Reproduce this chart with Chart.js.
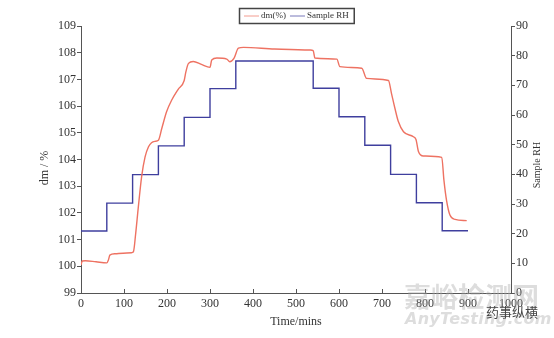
<!DOCTYPE html>
<html>
<head>
<meta charset="utf-8">
<script src="https://cdn.jsdelivr.net/npm/chart.js@4.4.1/dist/chart.umd.min.js"></script>
<style>
  body { margin: 0; background: #fff; }
  #wrap { position: relative; width: 554px; height: 338px; }
  .wm { position: absolute; white-space: nowrap; pointer-events: none; }
  .wm-cn { left: 404px; top: 276px; font: bold 27px "Noto Sans CJK SC"; color: rgba(170,170,170,0.4); }
  .wm-en { left: 405px; top: 309px; font: italic bold 16px "DejaVu Sans"; letter-spacing: 0.3px; color: rgba(170,170,170,0.4); }
  .wm-tag { left: 486px; top: 302px; font: 13px "Noto Sans CJK SC"; color: #444; }
</style>
</head>
<body>
<div id="wrap">
  <canvas id="dmChart" width="554" height="338"></canvas>
  <div class="wm wm-cn">嘉峪检测网</div>
  <div class="wm wm-en">AnyTesting.com</div>
  <div class="wm wm-tag">药事纵横</div>
</div>
<script>
// mass change (dm, %) against time
var dmTimes = [0, 3, 10, 35, 60, 64, 67, 80, 98, 118, 122, 127, 133, 141, 149, 157, 164, 172, 180,
  188, 199, 211, 226, 240, 244, 250, 261, 280, 300, 304, 316, 339, 346, 356, 366, 378, 450, 533,
  540, 544, 595, 602, 653, 664, 715, 722, 730, 738, 750, 773, 779, 785, 796, 839, 844, 850, 858, 870, 897];
var dmValues = [100.05, 100.2, 100.21, 100.17, 100.13, 100.25, 100.42, 100.47, 100.49, 100.51, 100.55, 101.2,
  102.17, 103.36, 104.1, 104.48, 104.63, 104.68, 104.72, 105.17, 105.79, 106.23, 106.63, 106.96, 107.29,
  107.6, 107.67, 107.56, 107.45, 107.73, 107.8, 107.76, 107.66, 107.8, 108.17, 108.2, 108.14, 108.1,
  108.08, 107.8, 107.76, 107.48, 107.42, 107.04, 106.96, 106.48, 105.92, 105.42, 105.04, 104.85, 104.75,
  104.29, 104.13, 104.08, 103.23, 102.48, 101.92, 101.76, 101.71];

// sample RH set points: each level holds from its time until the next one
var rhTimes = [0, 60, 120, 180, 240, 300, 360, 540, 600, 660, 720, 780, 840, 900];
var rhValues = [20.9, 30.3, 39.9, 49.6, 59.2, 68.9, 78.2, 69, 59.4, 49.8, 40, 30.4, 21, 21];

var seriesNames = ['dm(%)', 'Sample RH'];
var axisTitles = { x: 'Time/mins', left: 'dm / %', right: 'Sample RH' };

var RED = '#ee7262';
var BLUE = '#3f3f9e';
var AXIS = '#555';
var SERIF = '"Liberation Serif", "DejaVu Serif", serif';

function toPoints(xs, ys) {
  return xs.map(function (x, i) { return { x: x, y: ys[i] }; });
}

// stepped lines draw the segment at the next point's level, so shift levels by one
function stepPoints(xs, ys) {
  return xs.map(function (x, i) { return { x: x, y: ys[Math.max(i - 1, 0)] }; });
}

// boxed legend at the top, side titles, inward x ticks
var decorations = {
  id: 'decorations',
  afterDraw: function (chart) {
    var c = chart.ctx;
    var area = chart.chartArea;
    c.save();

    // x ticks point up into the plot
    var xs = chart.scales.x;
    c.strokeStyle = AXIS;
    c.lineWidth = 1;
    xs.ticks.forEach(function (t, i) {
      var px = Math.round(xs.getPixelForTick(i)) + 0.5;
      c.beginPath();
      c.moveTo(px, xs.top);
      c.lineTo(px, xs.top - 4);
      c.stroke();
    });

    // vertical titles, both reading bottom to top
    c.fillStyle = '#333';
    c.textAlign = 'center';
    c.textBaseline = 'middle';
    c.font = '12px ' + SERIF;
    c.save();
    c.translate(45, 168);
    c.rotate(-Math.PI / 2);
    c.fillText(axisTitles.left, 0, 0);
    c.restore();
    c.font = '10px ' + SERIF;
    c.save();
    c.translate(537, 165);
    c.rotate(-Math.PI / 2);
    c.fillText(axisTitles.right, 0, 0);
    c.restore();

    // legend
    c.font = '9px ' + SERIF;
    var cx = (area.left + area.right) / 2;
    var items = chart.data.datasets.map(function (d) {
      return { text: d.label, color: d.borderColor, w: c.measureText(d.label).width };
    });
    var lineLen = 15, gap = 2, itemGap = 4, pad = 5;
    var total = pad * 2 - itemGap;
    items.forEach(function (it) { total += lineLen + gap + it.w + itemGap; });
    var left = Math.round(cx - total / 2);
    var top = 8, h = 15;
    c.strokeStyle = '#444';
    c.lineWidth = 1.5;
    c.strokeRect(left + 0.5, top + 0.5, total, h);
    var x = left + pad;
    var my = top + h / 2 + 0.5;
    c.textAlign = 'left';
    items.forEach(function (it) {
      c.strokeStyle = it.color;
      c.globalAlpha = 0.7;
      c.lineWidth = 1;
      c.beginPath();
      c.moveTo(x, my);
      c.lineTo(x + lineLen, my);
      c.stroke();
      c.globalAlpha = 1;
      c.fillStyle = '#333';
      c.fillText(it.text, x + lineLen + gap, my);
      x += lineLen + gap + it.w + itemGap;
    });

    c.restore();
  }
};

new Chart(document.getElementById('dmChart'), {
  type: 'line',
  data: {
    datasets: [{
      label: seriesNames[0],
      data: toPoints(dmTimes, dmValues),
      yAxisID: 'y',
      borderColor: RED,
      borderWidth: 1.4,
      pointRadius: 0,
      cubicInterpolationMode: 'monotone'
    }, {
      label: seriesNames[1],
      data: stepPoints(rhTimes, rhValues),
      yAxisID: 'y1',
      borderColor: BLUE,
      borderWidth: 1.4,
      pointRadius: 0,
      stepped: 'after'
    }]
  },
  options: {
    responsive: false,
    animation: false,
    layout: { padding: { top: 26, left: 0, right: 0, bottom: 0 } },
    plugins: {
      legend: { display: false },
      tooltip: { enabled: false }
    },
    scales: {
      x: {
        type: 'linear',
        min: 0,
        max: 1000,
        ticks: {
          stepSize: 100, padding: 4, color: '#333', font: { family: SERIF, size: 12 }, maxRotation: 0,
          callback: function (v) { return String(v); }
        },
        grid: { drawOnChartArea: false, drawTicks: false },
        border: { color: AXIS, width: 1 },
        title: { display: true, text: axisTitles.x, color: '#333', font: { family: SERIF, size: 12 }, padding: { top: 0, bottom: 9 } },
        afterFit: function (s) { s.height = 45; }
      },
      y: {
        position: 'left',
        min: 99,
        max: 109,
        ticks: { stepSize: 1, padding: 1, color: '#333', font: { family: SERIF, size: 12 } },
        grid: { drawOnChartArea: false, tickLength: 4, color: AXIS },
        border: { color: AXIS, width: 1 },
        afterFit: function (s) { s.width = 81; }
      },
      y1: {
        position: 'right',
        min: 0,
        max: 90,
        ticks: { stepSize: 10, padding: 1, color: '#333', font: { family: SERIF, size: 12 } },
        grid: { drawOnChartArea: false, tickLength: 4, color: AXIS },
        border: { color: AXIS, width: 1 },
        afterFit: function (s) { s.width = 43; }
      }
    }
  },
  plugins: [decorations]
});
</script>
</body>
</html>
